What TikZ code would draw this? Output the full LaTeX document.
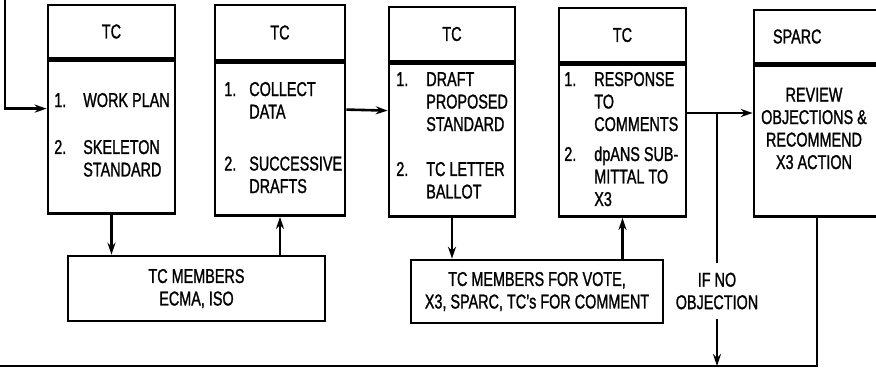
\documentclass[tikz,border=0pt]{standalone}
\usepackage{fontspec}
\setmainfont{Liberation Sans}[FakeStretch=0.72, FakeBold=1.2]
\usetikzlibrary{arrows.meta}

\begin{document}
\begin{tikzpicture}[x=1pt, y=-1pt, line width=2.6pt, >={Stealth[length=12pt,width=8pt]},
  every node/.style={font=\fontsize{20}{22.5}\selectfont},
  head/.style={draw, inner sep=0pt},
  body/.style={draw, inner sep=0pt, anchor=north},
  items/.style={anchor=base west, inner sep=0pt},
  member/.style={draw, align=center, inner sep=0pt}]
\useasboundingbox (0,0) rectangle (876,369);
\clip (0,0) rectangle (876,369);
% stage boxes
\node[head, minimum width=127pt, minimum height=53pt] (h1) at (111.5,31.5) {TC};
\node[body, minimum width=127pt, minimum height=153pt] (b1) at (h1.south) {};
\node[head, minimum width=130pt, minimum height=55pt] (h2) at (280,32.5) {TC};
\node[body, minimum width=130pt, minimum height=153pt] (b2) at (h2.south) {};
\node[head, minimum width=126pt, minimum height=54pt] (h3) at (452,34) {TC};
\node[body, minimum width=126pt, minimum height=153pt] (b3) at (h3.south) {};
\node[head, minimum width=127pt, minimum height=54pt] (h4) at (622.5,35) {TC};
\node[body, minimum width=127pt, minimum height=152pt] (b4) at (h4.south) {};
\node[head, minimum width=126pt, minimum height=53pt, text width=88pt, align=left, inner xsep=19pt] (h5) at (817,36.5) {SPARC};
\node[body, minimum width=126pt, minimum height=151pt] (b5) at (h5.south) {};
% stage contents
\node[items] (l1) at (53,107) {\begin{tabular}[t]{@{}p{29pt}@{}l@{}}1.&WORK PLAN\\[24.5pt]2.&SKELETON\\&STANDARD\end{tabular}};
\node[items] (l2) at (223,96) {\begin{tabular}[t]{@{}p{25pt}@{}l@{}}1.&COLLECT\\&DATA\\[29.5pt]2.&SUCCESSIVE\\&DRAFTS\end{tabular}};
\node[items] (l3) at (395,86) {\begin{tabular}[t]{@{}p{30pt}@{}l@{}}1.&DRAFT\\&PROPOSED\\&STANDARD\\[22.5pt]2.&TC LETTER\\&BALLOT\end{tabular}};
\node[items] (l4) at (563,86) {\begin{tabular}[t]{@{}p{30pt}@{}l@{}}1.&RESPONSE\\&TO\\&COMMENTS\\[7.5pt]2.&dpANS SUB-\\&MITTAL TO\\&X3\end{tabular}};
\node[align=center, inner sep=0pt] (l5) at (814,128.5) {REVIEW\\OBJECTIONS \&\\RECOMMEND\\X3 ACTION};
% reviewers
\node[member, minimum width=257pt, minimum height=65pt] (m1) at (196.5,288.5) {TC MEMBERS\\ECMA, ISO};
\node[member, minimum width=252pt, minimum height=63pt] (m2) at (537,291.5) {TC MEMBERS FOR VOTE,\\X3, SPARC, TC's FOR COMMENT};
\node[align=center, inner xsep=0pt, inner ysep=8pt] (cond) at (717,291) {IF NO\\OBJECTION};
\coordinate (enter) at (5,0);
\coordinate (split) at (717,113);
\coordinate (merge) at (717,366);
\coordinate (back) at (0,366);
\draw[->] (enter) |- ([yshift=28.5pt]b1.west);
\draw[->] (b1.south) -- (b1.south |- m1.north);
\draw[->] (m1.north -| b2.south) -- (b2.south);
\draw[->] ([yshift=29.5pt]b2.east) -- ([yshift=29.5pt]b3.west);
\draw[->] (b3.south) -- (b3.south |- m2.north);
\draw[->] (m2.north -| b4.south) -- (b4.south);
\draw[->] (b4.east |- split) -- (b5.west |- split);
\draw (split) -- (cond);
\draw[->] (cond) -- (merge);
\draw (b5.south) -- (b5.south |- merge) -- (back);
\end{tikzpicture}
\end{document}
